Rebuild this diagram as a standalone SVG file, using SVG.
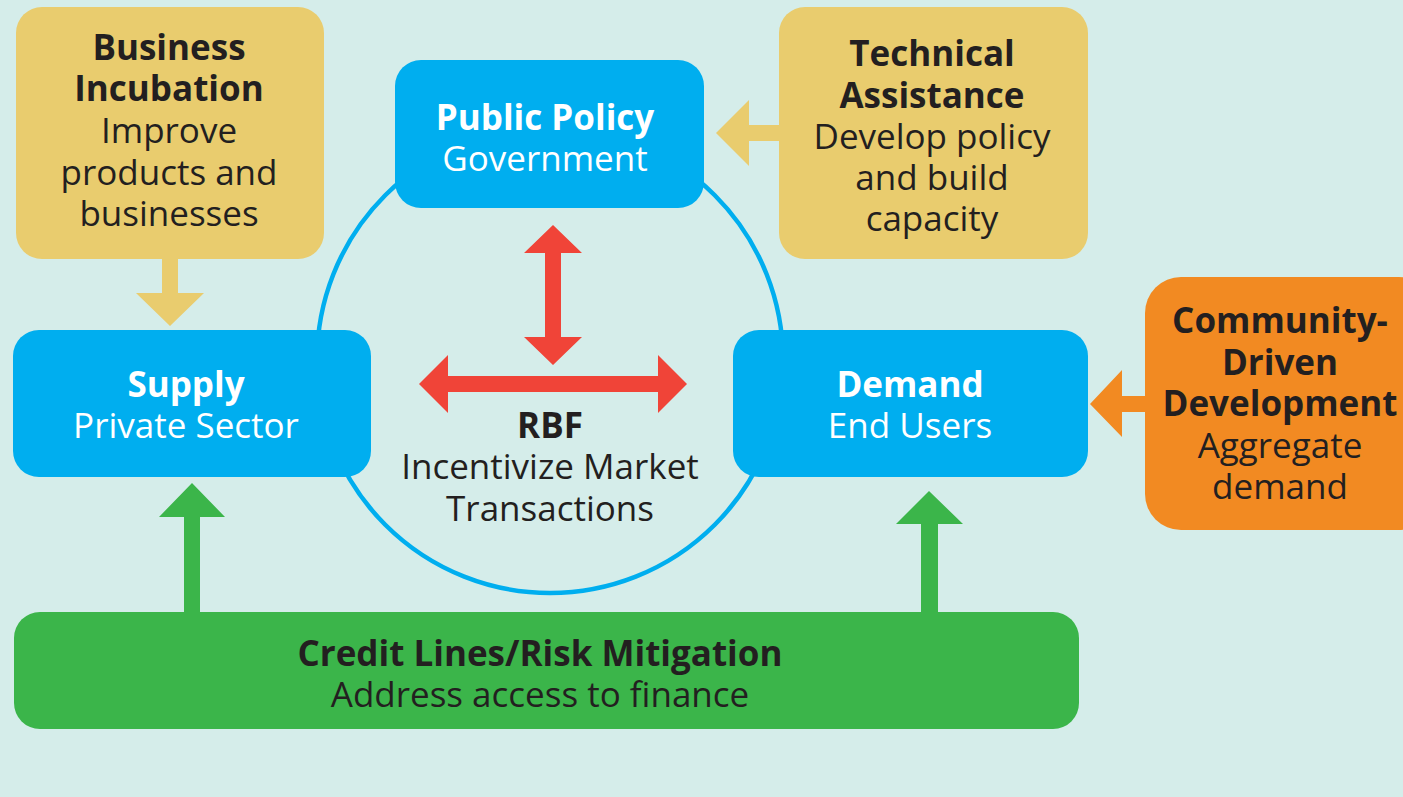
<svg xmlns="http://www.w3.org/2000/svg" width="1403" height="797" viewBox="0 0 1403 797">
<style>
text{font-family:"Open Sans","Noto Sans","DejaVu Sans",sans-serif;font-size:35px;text-anchor:middle;fill:#231F20}
.b{font-weight:bold}
.w{fill:#FFFFFF}
.yel{fill:#E9CC6E}
.blue{fill:#00AEEF}
.org{fill:#F28A22}
.grn{fill:#3BB54A}
.red{fill:#F04438}
</style>
<rect width="1403" height="797" fill="#D5EDEA"/>
<g id="circle">
<circle cx="550" cy="360" r="233" fill="none" stroke="#00AEEF" stroke-width="4.5"/>
</g>
<g id="connectors">
<polygon class="yel" points="162,259 178,259 178,293 204,293 170,326 136,293 162,293"/>
<polygon class="yel" points="779,125 749,125 749,100 716,133 749,166 749,141 779,141"/>
<polygon class="org" points="1145,396 1122,396 1122,370 1090,404 1122,437 1122,412 1145,412"/>
<polygon class="red" points="553,225 582,253 561,253 561,337 582,337 553,365 524,337 545,337 545,253 524,253"/>
<polygon class="red" points="419,384 448,355 448,376 658,376 658,355 687,384 658,413 658,392 448,392 448,413"/>
<polygon class="grn" points="192,483 225,517 200,517 200,614 184,614 184,517 159,517"/>
<polygon class="grn" points="929,491 963,524 938,524 938,614 921,614 921,524 896,524"/>
</g>
<g id="business-incubation">
<rect class="yel" x="16" y="7" width="308" height="252" rx="26"/>
<text class="b" x="169" y="60">Business</text>
<text class="b" x="169" y="101">Incubation</text>
<text x="169" y="143">Improve</text>
<text x="169" y="185">products and</text>
<text x="169" y="226">businesses</text>
</g>
<g id="public-policy">
<rect class="blue" x="395" y="60" width="309" height="148" rx="26"/>
<text class="b w" x="545" y="130">Public Policy</text>
<text class="w" x="545" y="171">Government</text>
</g>
<g id="technical-assistance">
<rect class="yel" x="779" y="7" width="309" height="252" rx="26"/>
<text class="b" x="932" y="66">Technical</text>
<text class="b" x="932" y="108">Assistance</text>
<text x="932" y="149">Develop policy</text>
<text x="932" y="190">and build</text>
<text x="932" y="231">capacity</text>
</g>
<g id="supply">
<rect class="blue" x="13" y="330" width="358" height="147" rx="26"/>
<text class="b w" x="186" y="397">Supply</text>
<text class="w" x="186" y="438">Private Sector</text>
</g>
<g id="demand">
<rect class="blue" x="733" y="330" width="355" height="147" rx="26"/>
<text class="b w" x="910" y="397">Demand</text>
<text class="w" x="910" y="438">End Users</text>
</g>
<g id="community-driven-development">
<rect class="org" x="1145" y="277" width="290" height="253" rx="36"/>
<text class="b" x="1280" y="333">Community-</text>
<text class="b" x="1280" y="375">Driven</text>
<text class="b" x="1280" y="416">Development</text>
<text x="1280" y="458">Aggregate</text>
<text x="1280" y="499">demand</text>
</g>
<g id="rbf">
<text class="b" x="550" y="438">RBF</text>
<text x="550" y="479">Incentivize Market</text>
<text x="550" y="521">Transactions</text>
</g>
<g id="credit-lines">
<rect class="grn" x="14" y="612" width="1065" height="117" rx="26"/>
<text class="b" x="540" y="666">Credit Lines/Risk Mitigation</text>
<text x="540" y="707">Address access to finance</text>
</g>
</svg>
